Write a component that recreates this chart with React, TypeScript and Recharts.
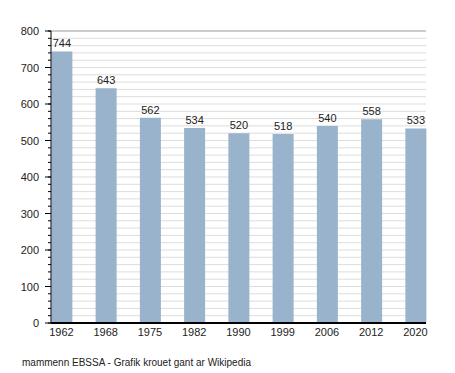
import React from 'react';
import { BarChart, Bar, XAxis, YAxis, CartesianGrid, LabelList } from 'recharts';

// Population per census year
const years = ['1962', '1968', '1975', '1982', '1990', '1999', '2006', '2012', '2020'];
const population = [744, 643, 562, 534, 520, 518, 540, 558, 533];

// Axis ticks
const yearTicks = [0, 1, 2, 3, 4, 5, 6, 7, 8];
const majorTicks = [0, 100, 200, 300, 400, 500, 600, 700, 800];
const minorTicks = [
    0, 20, 40, 60, 80, 100, 120, 140, 160, 180, 200, 220, 240, 260, 280, 300, 320, 340, 360, 380,
    400, 420, 440, 460, 480, 500, 520, 540, 560, 580, 600, 620, 640, 660, 680, 700, 720, 740, 760, 780, 800
];

const FONT = '"Liberation Sans", Arial, Helvetica, sans-serif';

const chartData = years.map((year, i) => ({ idx: yearTicks[i], year, value: population[i] }));

// y tick: label + long tick only on the hundreds
const YTick = (props: any) => {
    const { x, y, payload } = props;
    if (payload.value % 100 !== 0) return null;
    const axisX = x + 13;
    return (
        <g>
            <line x1={axisX - 6} x2={axisX} y1={y} y2={y} stroke="#000" />
            <text x={x + 1} y={y} dy={4} textAnchor="end" fontSize={11} fill="#222" fontFamily={FONT}>
                {payload.value}
            </text>
        </g>
    );
};

export default function App() {
    return (
        <div style={{ position: 'absolute', left: 0, top: 0, width: 455, height: 373, background: '#fff' }}>
            <BarChart
                width={455}
                height={373}
                data={chartData}
                margin={{ top: 31, right: 29, bottom: 30, left: 0 }}
                style={{ fontFamily: FONT }}
            >
                <CartesianGrid vertical={false} stroke="#dddddd" />
                <CartesianGrid vertical={false} stroke="#aaaaaa" yAxisId="major" />
                <XAxis
                    dataKey="idx"
                    type="number"
                    domain={[-0.2373, 8.2373]}
                    ticks={yearTicks}
                    tickFormatter={(v) => years[v]}
                    tickLine={false}
                    tickSize={0}
                    tickMargin={5}
                    height={20}
                    axisLine={{ stroke: '#000', strokeWidth: 2 }}
                    tick={{ fill: '#222', fontSize: 11 }}
                />
                <YAxis
                    type="number"
                    domain={[0, 800]}
                    ticks={minorTicks}
                    interval={0}
                    width={51}
                    tickSize={3}
                    tickMargin={10}
                    axisLine={{ stroke: '#000' }}
                    tickLine={{ stroke: '#000' }}
                    tick={<YTick />}
                />
                <YAxis yAxisId="major" hide type="number" domain={[0, 800]} ticks={majorTicks} interval={0} />
                <Bar dataKey="value" fill="#99b3cc" barSize={21} isAnimationActive={false}>
                    <LabelList dataKey="value" position="top" offset={4} fill="#222" fontSize={11} />
                </Bar>
            </BarChart>
            <div
                style={{
                    position: 'absolute',
                    left: 22,
                    top: 357,
                    fontSize: 10,
                    fontFamily: FONT,
                    color: '#222',
                    whiteSpace: 'nowrap'
                }}
            >
                mammenn EBSSA - Grafik krouet gant ar Wikipedia
            </div>
        </div>
    );
}
